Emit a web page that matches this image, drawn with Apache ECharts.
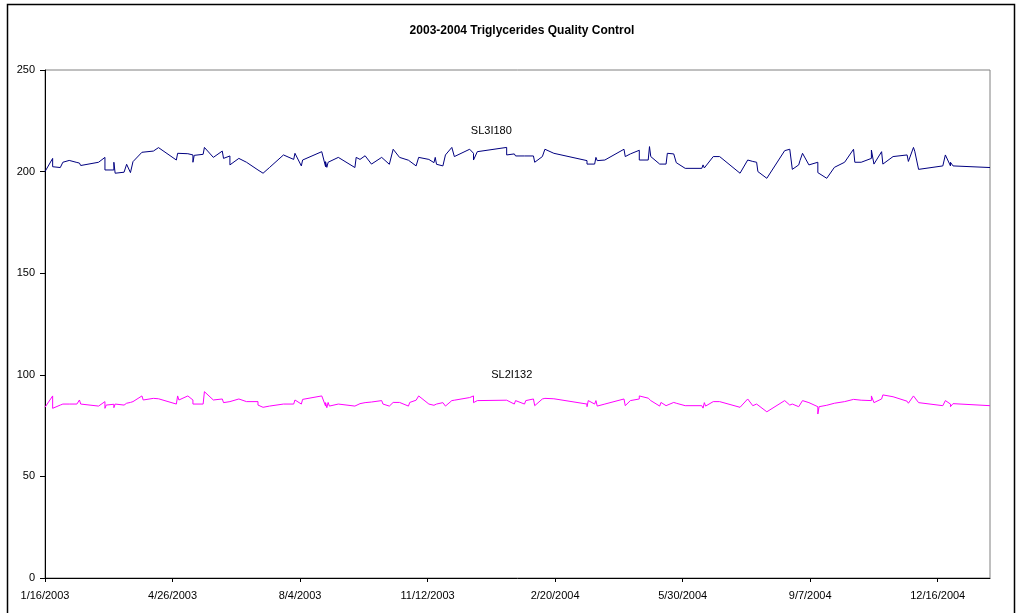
<!DOCTYPE html>
<html><head><meta charset="utf-8">
<script src="https://cdn.jsdelivr.net/npm/echarts@6/dist/echarts.min.js"></script>
<style>html,body{margin:0;padding:0;background:#fff}#c{width:1016px;height:613px}</style>
</head><body><div id="c"></div>
<script>
const chartTitle = '2003-2004 Triglycerides Quality Control';
const startDate = '2003-01-16';
const axisMaxDate = '2005-01-26';
const tickDays = 100;
const yTicks = [0, 50, 100, 150, 200, 250];
const seriesNames = ['SL3I180', 'SL2I132'];
const labelAnchors = [['2004-01-01', 220], ['2004-01-17', 100]];

const dates = [
 '2003-01-16','2003-01-22','2003-01-22','2003-01-28','2003-01-30','2003-02-04','2003-02-10','2003-02-12','2003-02-13','2003-02-27',
 '2003-03-04','2003-03-04','2003-03-05','2003-03-11','2003-03-11','2003-03-12','2003-03-19','2003-03-21','2003-03-24','2003-03-26',
 '2003-04-02','2003-04-03','2003-04-11','2003-04-15','2003-04-29','2003-04-30','2003-05-01','2003-05-08','2003-05-12','2003-05-12',
 '2003-05-13','2003-05-20','2003-05-21','2003-05-28','2003-06-04','2003-06-05','2003-06-10','2003-06-10','2003-06-17','2003-06-23',
 '2003-07-02','2003-07-02','2003-07-06','2003-07-11','2003-07-22','2003-07-30','2003-07-31','2003-08-05','2003-08-06','2003-08-21',
 '2003-08-24','2003-08-24','2003-08-25','2003-08-26','2003-08-27','2003-09-03','2003-09-16','2003-09-17','2003-09-20','2003-09-24',
 '2003-09-29','2003-10-07','2003-10-08','2003-10-13','2003-10-16','2003-10-21','2003-10-28','2003-10-29','2003-11-03','2003-11-05',
 '2003-11-13','2003-11-17','2003-11-18','2003-11-19','2003-11-24','2003-11-26','2003-12-01','2003-12-03','2003-12-15','2003-12-18',
 '2003-12-18','2003-12-21','2004-01-13','2004-01-13','2004-01-14','2004-01-19','2004-01-20','2004-01-27','2004-01-28','2004-02-03',
 '2004-02-04','2004-02-10','2004-02-12','2004-02-19','2004-03-16','2004-03-16','2004-03-17','2004-03-22','2004-03-23','2004-03-24',
 '2004-03-30','2004-04-14','2004-04-15','2004-04-19','2004-04-26','2004-04-26','2004-05-03','2004-05-04','2004-05-05','2004-05-12',
 '2004-05-13','2004-05-17','2004-05-18','2004-05-23','2004-05-25','2004-06-01','2004-06-14','2004-06-15','2004-06-16','2004-06-17',
 '2004-06-23','2004-06-28','2004-07-14','2004-07-20','2004-07-24','2004-07-27','2004-07-28','2004-08-04','2004-08-18','2004-08-22',
 '2004-08-24','2004-08-29','2004-08-30','2004-09-01','2004-09-06','2004-09-13','2004-09-13','2004-09-14','2004-09-20','2004-09-26',
 '2004-10-04','2004-10-11','2004-10-12','2004-10-17','2004-10-25','2004-10-25','2004-10-27','2004-11-02','2004-11-03','2004-11-11',
 '2004-11-22','2004-11-23','2004-11-27','2004-11-28','2004-12-01','2004-12-20','2004-12-22','2004-12-26','2004-12-26','2004-12-28',
 '2005-01-26'
];

const sl3i180 = [
 200,206.5,202.4,202,204.6,205.5,204.5,204.2,203,204.6,
 207,200.8,200.8,200.8,204.6,199.2,199.7,203.6,199.5,204.9,
 209.5,209.6,210.1,211.8,205.7,209,208.9,208.8,208.2,204.6,
 208,208.5,211.9,207,210.1,206.5,207.7,203.3,206.5,204.6,
 200.8,200.8,199.2,202,208.2,206,209,202.8,205.7,209.8,
 202.4,204.9,202.1,204.6,204,207,202,207,206,207.8,
 203.7,207,207.5,203.6,211,207,205.6,205.4,202.8,207,
 206,204.4,207,203.6,202.8,208.2,211.9,207.4,211,209,
 205.7,209.8,211.9,208.2,208.7,208.7,207.7,207.7,207,207.7,
 204.6,207.4,211,209,205.4,203.7,204.5,203.7,207,205.4,
 205.7,211,207.4,208.7,210.5,205.7,205.7,212.3,207.4,203.7,
 203.7,203.7,209,208.7,204.4,201.6,201.6,203.3,201.8,202,
 207.4,207.4,199.2,205.7,205,204.6,200,196.7,210.3,211,
 201.1,203.3,205.4,209,203.3,204.6,199.5,199.5,196.7,202.1,
 204.6,211,204.6,204.6,206.5,210.6,203.7,209.8,203.7,207.4,
 208.2,205,211.9,210,201.1,202.8,208.2,202.8,204.6,202.8,
 202
];

const sl2i132 = [
 84,89.6,83.5,85.1,85.6,85.6,85.6,87.6,85.6,84.6,
 86.8,83.5,85.1,85.5,83.8,85.6,85.1,86,86.4,86.8,
 89.6,87.6,88.4,88.2,85.6,89.6,87.6,89.6,87.6,85.6,
 85.6,85.6,91.7,87.6,88.1,86.3,86.8,86,88.1,86.8,
 86.8,85.1,84,84.6,85.6,85.6,87.6,85.6,87.9,89.6,
 84.6,86.3,83.8,86.4,84.6,85.6,84.6,85.1,85.8,86.3,
 86.6,87.3,85.6,84.6,86.4,86.4,84.6,86.4,87.5,89.6,
 85.6,85,84.6,85.6,86.3,84.6,87.3,87.5,88.8,89.6,
 86.3,87.3,87.5,87.3,87.3,85.6,87.3,85.6,87.3,88.1,
 84.8,88.1,88.4,88.2,85.6,84.3,87.3,85.6,87.3,84.6,
 85.6,88.1,84.8,87.3,88.1,89.6,88.5,88,87.3,84.6,
 86.4,84.8,85.5,86.4,86,84.8,84.8,83.6,86.3,84.6,
 86.8,86.8,84,88.1,84.8,85.6,85.3,81.8,87.3,85.1,
 85.6,84.3,84.6,87.3,86.3,84.3,80.7,84.3,85,86,
 86.8,87.9,87.3,87.5,87.3,89.6,86.3,88.1,90.1,89.2,
 87,86,89.6,89.2,86.3,84.8,87.3,85.6,84.3,85.8,
 84.8
];

const DAY = 86400000;
function toUTC(s){const p=s.split('-').map(Number);return Date.UTC(p[0],p[1]-1,p[2]);}
const t0 = toUTC(startDate);
function dayOf(s){return Math.round((toUTC(s)-t0)/DAY);}
function fmt(v){const d=new Date(t0+v*DAY);return (d.getUTCMonth()+1)+'/'+d.getUTCDate()+'/'+d.getUTCFullYear();}

const colors = ['#000080', '#FF00FF'];
const values = [sl3i180, sl2i132];

const chart = echarts.init(document.getElementById('c'), null, {renderer:'canvas'});
chart.setOption({
  animation:false,
  backgroundColor:'#ffffff',
  title:{text:chartTitle,left:517,textAlign:'center',top:20,
    textStyle:{fontFamily:'Liberation Sans, Arial',fontSize:12,fontWeight:'bold',color:'#000'}},
  graphic:[{type:'rect',shape:{x:7.5,y:4.5,width:1007,height:640},
    style:{fill:'none',stroke:'#000',lineWidth:1.5},silent:true,z:-1}],
  grid:{left:45,top:70,right:26,bottom:35,show:true,borderColor:'#808080',borderWidth:1,backgroundColor:'transparent'},
  xAxis:{type:'value',min:0,max:dayOf(axisMaxDate),interval:tickDays,
    axisLine:{show:true,onZero:false,lineStyle:{color:'#000',width:1}},
    axisTick:{show:true,length:4,lineStyle:{color:'#000'}},
    splitLine:{show:false},
    axisLabel:{formatter:fmt,color:'#000',fontFamily:'Liberation Sans, Arial',fontSize:11,margin:12,showMaxLabel:false}},
  yAxis:{type:'value',min:yTicks[0],max:yTicks[yTicks.length-1],interval:yTicks[1]-yTicks[0],
    axisLine:{show:true,lineStyle:{color:'#000',width:1}},
    axisTick:{show:true,length:5,lineStyle:{color:'#000'}},
    splitLine:{show:false},
    axisLabel:{color:'#000',fontFamily:'Liberation Sans, Arial',fontSize:11,margin:10}},
  series: seriesNames.map((n,i)=>({
    name:n,type:'line',symbol:'none',
    lineStyle:{color:colors[i],width:1},itemStyle:{color:colors[i]},
    data:dates.map((d,k)=>[dayOf(d),values[i][k]]),
    markPoint:{symbol:'circle',symbolSize:0,silent:true,
      itemStyle:{color:'transparent'},
      label:{show:true,position:'inside',formatter:n,color:'#000',fontFamily:'Liberation Sans, Arial',fontSize:11},
      data:[{coord:[dayOf(labelAnchors[i][0]),labelAnchors[i][1]]}]}
  }))
});
</script></body></html>
